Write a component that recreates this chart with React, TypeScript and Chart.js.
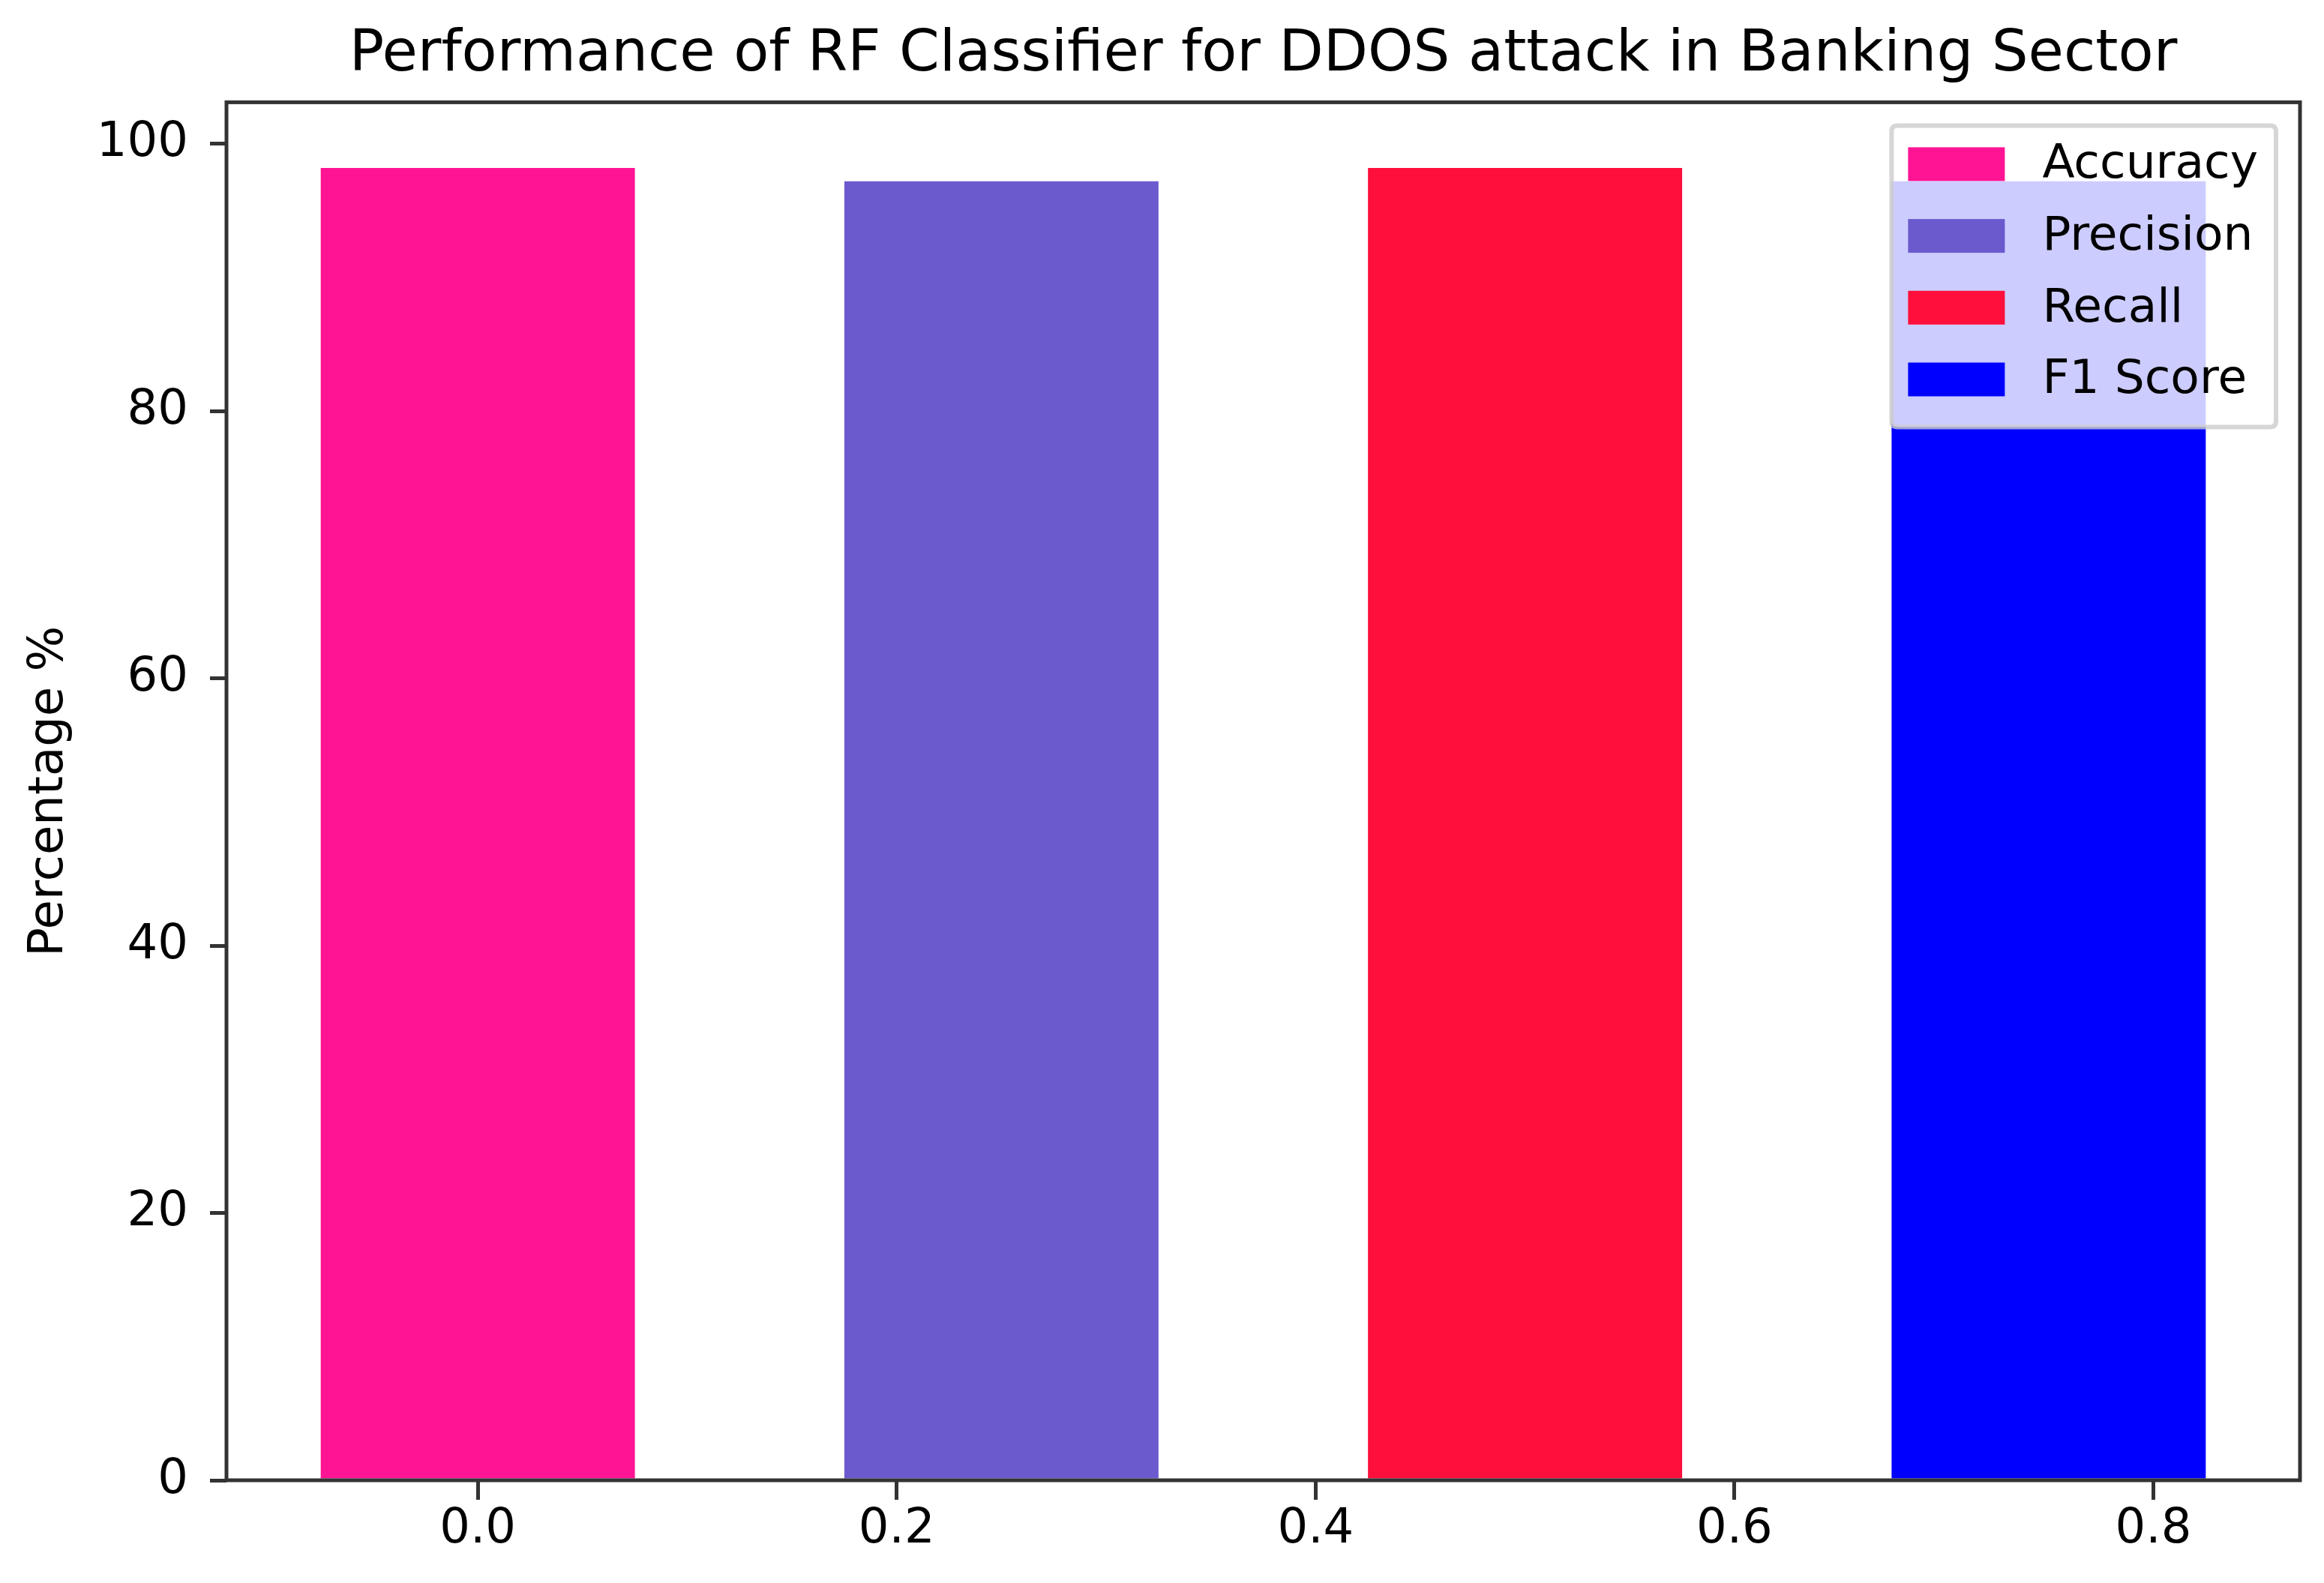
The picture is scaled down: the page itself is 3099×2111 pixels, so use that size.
import React, { useEffect, useRef } from 'react';
import { Chart, registerables } from 'chart.js';

Chart.register(...registerables);

// ---- data ----
const METRICS = ['Accuracy', 'Precision', 'Recall', 'F1 Score'];
const X_POSITIONS = [0, 0.25, 0.5, 0.75];
const SCORES = [98.2, 97.2, 98.2, 97.2];
const BAR_COLORS = ['#FF1493', '#6A5ACD', '#FF0F3B', '#0000FF'];
const BAR_WIDTH = 0.15;
const X_TICK_STEP = 0.2;
const Y_TICK_STEP = 20;
const TITLE = 'Performance of RF Classifier for DDOS attack in Banking Sector';
const Y_LABEL = 'Percentage %';

const FONT = "'DejaVu Sans', sans-serif";

const framePlugin = {
  id: 'mplFrame',
  afterDatasetsDraw(chart: any) {
    const { ctx, chartArea: a } = chart;
    ctx.save();
    // spines
    ctx.strokeStyle = '#333333';
    ctx.lineWidth = 5;
    ctx.strokeRect(a.left, a.top, a.right - a.left, a.bottom - a.top);

    // legend (matplotlib style, upper right)
    const fontSize = 63;
    ctx.font = `${fontSize}px ${FONT}`;
    const datasets = chart.data.datasets;
    let maxW = 0;
    datasets.forEach((d: any) => {
      maxW = Math.max(maxW, ctx.measureText(d.label).width);
    });
    const padL = 22, patchW = 129, patchH = 45, gap = 50, padR = 24;
    const rowH = 95.7;
    const frameRight = a.right - 32;
    const frameTop = a.top + 31;
    const frameW = padL + patchW + gap + maxW + padR;
    const frameLeft = frameRight - frameW;
    const frameH = 402;
    const r = 8;
    ctx.beginPath();
    ctx.moveTo(frameLeft + r, frameTop);
    ctx.lineTo(frameLeft + frameW - r, frameTop);
    ctx.quadraticCurveTo(frameLeft + frameW, frameTop, frameLeft + frameW, frameTop + r);
    ctx.lineTo(frameLeft + frameW, frameTop + frameH - r);
    ctx.quadraticCurveTo(frameLeft + frameW, frameTop + frameH, frameLeft + frameW - r, frameTop + frameH);
    ctx.lineTo(frameLeft + r, frameTop + frameH);
    ctx.quadraticCurveTo(frameLeft, frameTop + frameH, frameLeft, frameTop + frameH - r);
    ctx.lineTo(frameLeft, frameTop + r);
    ctx.quadraticCurveTo(frameLeft, frameTop, frameLeft + r, frameTop);
    ctx.closePath();
    ctx.fillStyle = 'rgba(255,255,255,0.8)';
    ctx.fill();
    ctx.lineWidth = 6;
    ctx.strokeStyle = 'rgba(204,204,204,0.8)';
    ctx.stroke();

    ctx.textBaseline = 'middle';
    ctx.textAlign = 'left';
    datasets.forEach((d: any, i: number) => {
      const top = frameTop + 29 + i * rowH;
      ctx.fillStyle = d.backgroundColor;
      ctx.fillRect(frameLeft + padL, top, patchW, patchH);
      ctx.fillStyle = '#000000';
      ctx.fillText(d.label, frameLeft + padL + patchW + gap, top + patchH / 2 + 2);
    });
    ctx.restore();
  },
};

export default function App() {
  const ref = useRef<HTMLCanvasElement>(null);

  useEffect(() => {
    document.body.style.margin = '0';
    const canvas = ref.current as HTMLCanvasElement;
    const lo = Math.min(...X_POSITIONS) - BAR_WIDTH / 2;
    const hi = Math.max(...X_POSITIONS) + BAR_WIDTH / 2;
    const xm = (hi - lo) * 0.05;
    const yMax = Math.max(...SCORES) * 1.05;
    const tickFont = { family: FONT, size: 64, weight: 'normal' as const, lineHeight: 1.2 };

    const chart = new Chart(canvas, {
      type: 'bar',
      data: {
        datasets: METRICS.map((m, i) => ({
          label: m,
          data: [{ x: X_POSITIONS[i], y: SCORES[i] }],
          backgroundColor: BAR_COLORS[i],
          borderWidth: 0,
          grouped: false,
          categoryPercentage: 1,
          // bar width in data units relative to the smallest spacing (tick step)
          barPercentage: BAR_WIDTH / X_TICK_STEP,
        })),
      } as any,
      options: {
        responsive: false,
        animation: false,
        devicePixelRatio: 1,
        layout: { padding: { left: 0, right: 32, top: 0, bottom: 0 } },
        plugins: {
          legend: { display: false },
          tooltip: { enabled: false },
          title: {
            display: true,
            text: TITLE,
            fullSize: false,
            color: '#000000',
            font: { family: FONT, size: 77, weight: 'normal', lineHeight: 1.2 },
            padding: { top: 28, bottom: 16 },
          },
        },
        scales: {
          x: {
            type: 'linear',
            min: lo - xm,
            max: hi + xm,
            offset: false,
            grid: {
              offset: false,
              drawOnChartArea: false,
              drawTicks: true,
              tickLength: 26,
              lineWidth: 5,
              tickWidth: 5,
              color: '#333333',
              tickColor: '#333333',
            },
            border: { display: false },
            ticks: {
              stepSize: X_TICK_STEP,
              includeBounds: false,
              padding: 2,
              color: '#000000',
              font: tickFont,
              maxRotation: 0,
              autoSkip: false,
              callback: (v: any) => Number(v).toFixed(1),
            },
            afterFit: (s: any) => {
              s.height = 137;
            },
          },
          y: {
            type: 'linear',
            min: 0,
            max: yMax,
            grid: {
              drawOnChartArea: false,
              drawTicks: true,
              tickLength: 22,
              lineWidth: 5,
              tickWidth: 5,
              color: '#333333',
              tickColor: '#333333',
            },
            border: { display: false },
            ticks: {
              stepSize: Y_TICK_STEP,
              includeBounds: false,
              padding: 29,
              color: '#000000',
              font: tickFont,
              callback: (v: any) => String(Math.round(Number(v))),
            },
            title: {
              display: true,
              text: Y_LABEL,
              color: '#000000',
              font: tickFont,
              padding: { top: 28, bottom: 0 },
            },
            afterFit: (s: any) => {
              s.width = 302;
            },
          },
        },
      } as any,
      plugins: [framePlugin],
    });
    return () => chart.destroy();
  }, []);

  return (
    <div style={{ width: 3099, height: 2111, overflow: 'hidden' }}>
      <canvas
        ref={ref}
        width={3099}
        height={2111}
        style={{ display: 'block', width: 3099, height: 2111 }}
      />
    </div>
  );
}
